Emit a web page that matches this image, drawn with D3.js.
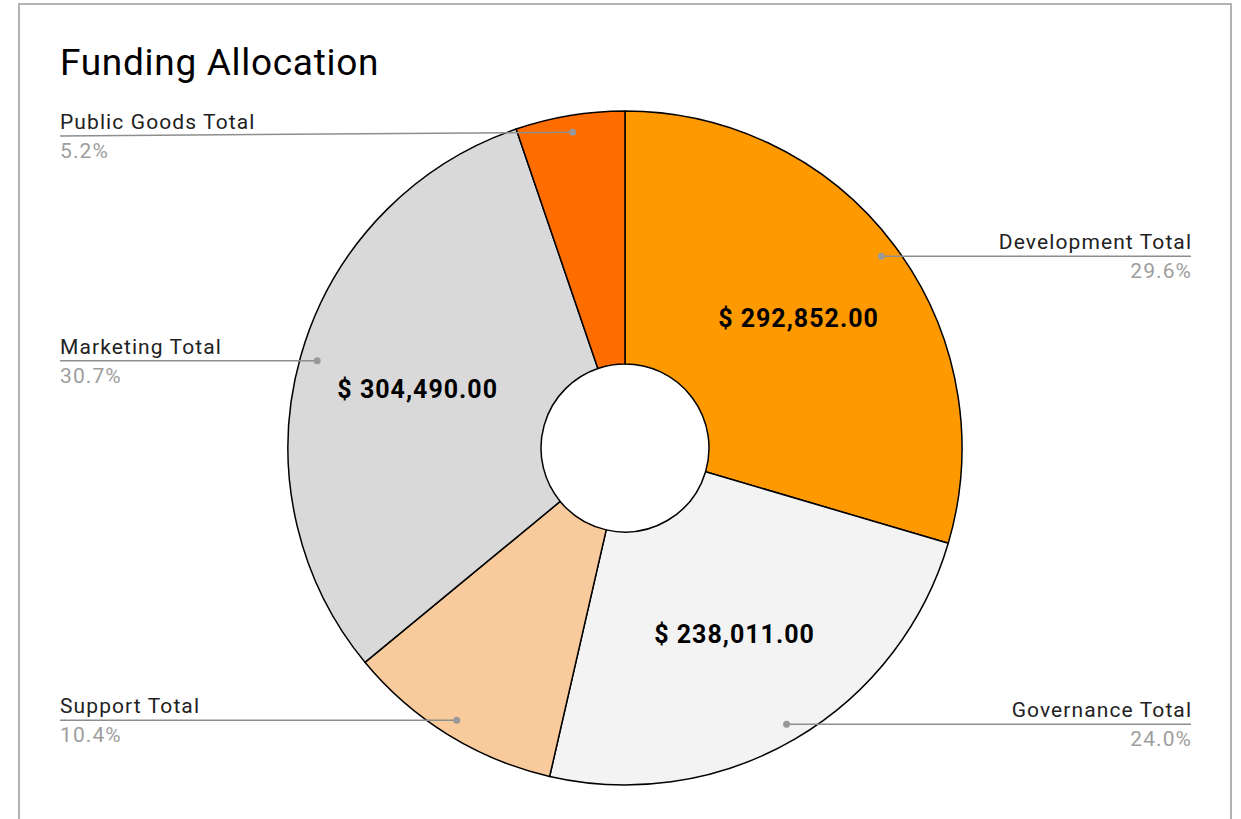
<!DOCTYPE html>
<html>
<head>
<meta charset="utf-8">
<script src="https://cdn.jsdelivr.net/npm/d3@7"></script>
<style>
  body { margin: 0; background: #fff; }
  svg { display: block; }
</style>
</head>
<body>
<svg class="vis" width="1241" height="819"></svg>
<script>
// data (clockwise from 12 o'clock)
var categories = ["Development Total", "Governance Total", "Support Total", "Marketing Total", "Public Goods Total"];
var amounts = [292852, 238011, 103400, 304490, 51847];
var colors = ["#ff9900", "#f3f3f3", "#f9cb9c", "#d9d9d9", "#ff6d01"];

var svg = d3.select(".vis");

// frame
svg.append("rect")
    .attr("x", 19)
    .attr("y", 4)
    .attr("width", 1212)
    .attr("height", 830)
    .attr("fill", "none")
    .attr("stroke", "#b2b2b2")
    .attr("stroke-width", 2);

svg.append("text")
    .attr("x", 60)
    .attr("y", 75)
    .text("Funding Allocation")
    .attr("font-family", "Roboto, sans-serif")
    .attr("font-size", "37px")
    .attr("letter-spacing", "0.7px")
    .attr("fill", "#000");

var cx = 625, cy = 448, outerR = 337, innerR = 84;
var total = d3.sum(amounts);

var data = categories.map(function (c, i) {
    return { name: c, value: amounts[i], color: colors[i] };
});

var pie = d3.pie().sort(null).value(function (d) { return d.value; });
var arcs = pie(data);

var arc = d3.arc().innerRadius(innerR).outerRadius(outerR);
var dotArc = d3.arc().innerRadius(320).outerRadius(320);
var valueArc = d3.arc().innerRadius(216).outerRadius(216);

var g = svg.append("g")
    .attr("transform", `translate(${cx}, ${cy})`);

g.selectAll(".slice")
    .data(arcs)
    .join("path")
    .attr("class", "slice")
    .attr("d", arc)
    .attr("fill", function (d) { return d.data.color; })
    .attr("stroke", "#000")
    .attr("stroke-width", 1.5)
    .attr("stroke-linejoin", "round");

// value labels only on the big slices
var fmt = d3.format(",.2f");
g.selectAll(".value")
    .data(arcs.filter(function (d) { return d.value / total > 0.2; }))
    .join("text")
    .attr("class", "value")
    .attr("x", function (d) { return valueArc.centroid(d)[0] + 0.5; })
    .attr("y", function (d) { return valueArc.centroid(d)[1]; })
    .attr("text-anchor", "middle")
    .attr("dominant-baseline", "central")
    .attr("font-family", "Roboto, sans-serif")
    .attr("font-weight", "bold")
    .attr("font-size", "25px")
    .attr("letter-spacing", "1px")
    .attr("fill", "#000")
    .text(function (d) { return "$ " + fmt(d.value); });

// leader lines + labels
var pct = d3.format(".1%");
var labelLeft = 60, labelRight = 1191;

arcs.forEach(function (d) {
    var p = dotArc.centroid(d);
    var dx = p[0] + cx, dy = p[1] + cy;
    var right = p[0] > 0;
    var lineY = Math.max(dy, 136);
    var lx = right ? labelRight : labelLeft;
    var tx = right ? lx + 1.1 : lx;

    svg.append("line")
        .attr("x1", lx)
        .attr("y1", lineY)
        .attr("x2", dx)
        .attr("y2", dy)
        .attr("stroke", "#8e8e8e")
        .attr("stroke-width", 1.5);

    svg.append("circle")
        .attr("cx", dx)
        .attr("cy", dy)
        .attr("r", 3.5)
        .attr("fill", "#999");

    svg.append("text")
        .attr("x", tx)
        .attr("y", lineY - 7)
        .attr("text-anchor", right ? "end" : "start")
        .attr("font-family", "Roboto, sans-serif")
        .attr("font-size", "21px")
        .attr("letter-spacing", "1.1px")
        .attr("fill", "#222")
        .text(d.data.name);

    svg.append("text")
        .attr("x", tx)
        .attr("y", lineY + 22)
        .attr("text-anchor", right ? "end" : "start")
        .attr("font-family", "Roboto, sans-serif")
        .attr("font-size", "21px")
        .attr("letter-spacing", "1.1px")
        .attr("fill", "#9e9e9e")
        .text(pct(d.value / total));
});
</script>
</body>
</html>
